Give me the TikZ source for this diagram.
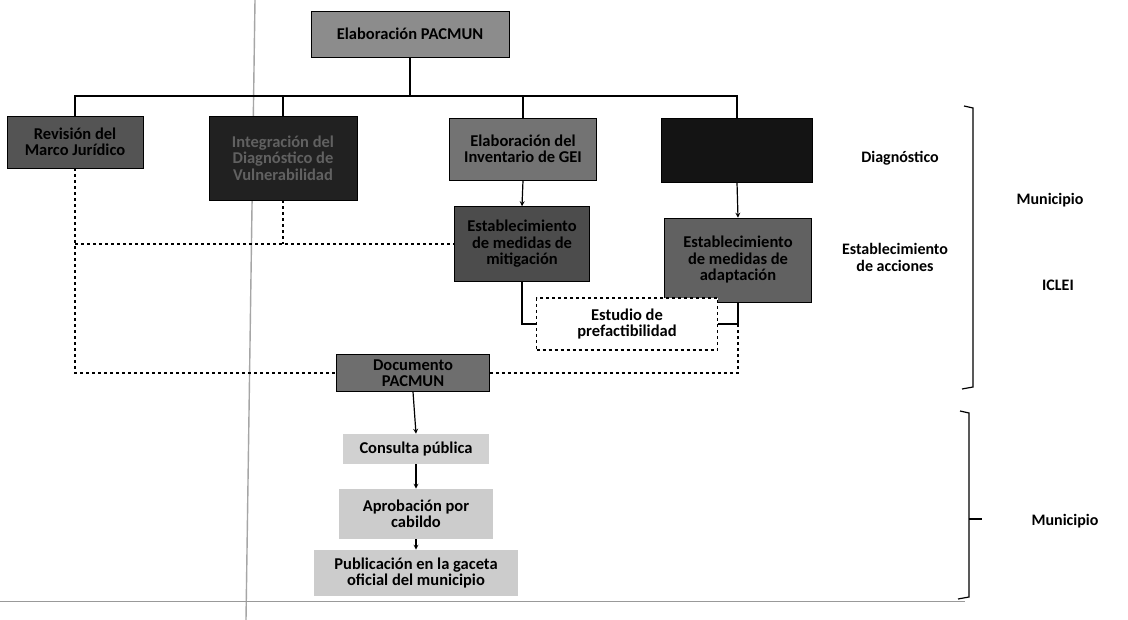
\documentclass[tikz,border=0pt]{standalone}
\usepackage{fontspec}
\setmainfont{Carlito}

\begin{document}
\begin{tikzpicture}[x=1pt,y=-1pt,>=stealth,
  box/.style={draw=black,line width=0.6pt,align=center,inner sep=0pt,
    font=\bfseries\fontsize{16.5}{16.5}\selectfont},
  lbl/.style={font=\bfseries\fontsize{16}{17}\selectfont,align=center},
  link/.style={line width=1.2pt},
  dashlink/.style={line width=1.2pt,dash pattern=on 3pt off 3pt}]
  \useasboundingbox[fill=white] (0,0) rectangle (1128,620);
  % scan marks
  \draw[gray!70,line width=1.4pt] (255,0)--(246,620);
  \draw[gray!80,line width=0.6pt] (0,601)--(965,601);
  % boxes
  \node[box,fill=black!45,minimum width=198,minimum height=46] (pac) at (410,34) {Elaboración PACMUN};
  \node[box,fill=black!67,minimum width=136,minimum height=52] (marco) at (75,142) {Revisión del\\Marco Jurídico};
  \node[box,fill=black!87,text=black!62,minimum width=148,minimum height=84] (diag) at (283,158) {Integración del\\Diagnóstico de\\Vulnerabilidad};
  \node[box,fill=black!55,minimum width=147,minimum height=62] (gei) at (523,149) {Elaboración del\\Inventario de GEI};
  \node[box,fill=black!92,minimum width=151,minimum height=64] (vul) at (737,150) {};
  \node[box,fill=black!70,minimum width=135,minimum height=75] (mit) at (522,244) {Establecimiento\\de medidas de\\mitigación};
  \node[box,fill=black!62,minimum width=147,minimum height=84] (adap) at (738,260) {Establecimiento\\de medidas de\\adaptación};
  \node[box,dashlink,fill=white,minimum width=181,minimum height=52] (estudio) at (627,324) {Estudio de\\prefactibilidad};
  \node[box,fill=black!57,minimum width=153,minimum height=37] (doc) at (413,373) {Documento\\PACMUN};
  \node[box,draw=none,fill=black!18,minimum width=146,minimum height=30] (consulta) at (416,449) {Consulta pública};
  \node[box,draw=none,fill=black!20,minimum width=154,minimum height=50] (cabildo) at (416,514) {Aprobación por\\cabildo};
  \node[box,draw=none,fill=black!20,minimum width=204,minimum height=46] (gaceta) at (416,573) {Publicación en la gaceta\\oficial del municipio};
  % side labels
  \node[lbl] (lbldiag) at (900,158) {Diagnóstico};
  \node[lbl] (lblmun) at (1050,200) {Municipio};
  \node[lbl] (lblacc) at (895,257) {Establecimiento\\de acciones};
  \node[lbl] (lbliclei) at (1058,285) {ICLEI};
  \node[lbl] (lblmun2) at (1065,521) {Municipio};
  % connectors
  \coordinate (bus) at (0,96);
  \draw[link] (pac.south) -- (pac.south |- bus);
  \draw[link] (marco.north) -- (marco.north |- bus) -- (vul.north |- bus) -- (vul.north);
  \draw[link] (diag.north) -- (diag.north |- bus);
  \draw[link] (gei.north) -- (gei.north |- bus);
  \draw[link,->] (gei.south) -- (mit.north);
  \draw[link,->] (vul.south) -- (adap.north);
  \draw[link] (mit.south) |- (estudio.west);
  \draw[link] (adap.south) |- (estudio.east);
  \draw[dashlink] (marco.south) |- (doc.west);
  \draw[dashlink] (marco.south |- mit.west) -- (mit.west);
  \draw[dashlink] (diag.south) -- (diag.south |- mit.west);
  \draw[dashlink] (doc.east) -| (adap.south |- estudio.east);
  \draw[link,->] (doc.south) -- (consulta.north);
  \draw[link,->] (consulta.south) -- (cabildo.north);
  \draw[link,->] (cabildo.south) -- (gaceta.north);
  % brackets
  \draw[line width=1.2pt] (964,106) -- (973,108) -- (973,387) -- (962,389);
  \draw[line width=1.2pt] (960,411) -- (969,413) -- (969,597) -- (958,599);
  \draw[line width=1.2pt] (969,519) -- (982,519);
\end{tikzpicture}
\end{document}
